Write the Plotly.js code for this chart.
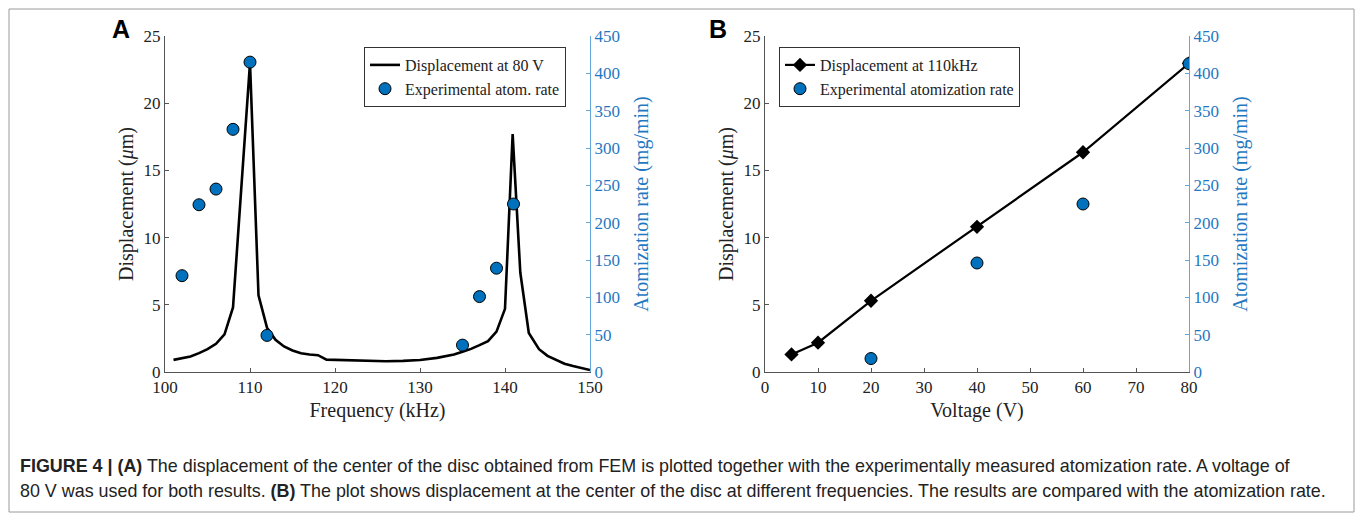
<!DOCTYPE html>
<html>
<head>
<meta charset="utf-8">
<script src="https://cdn.plot.ly/plotly-3.0.1.min.js"></script>
<style>html,body{margin:0;padding:0;background:#fff;}#chart{width:1355px;height:513px;}</style>
</head>
<body>
<div id="chart"></div>
<script>
// Panel A: displacement vs frequency (FEM, 80 V)
const freqA = [101,102,103,104,105,106,107,108,109,110,111,112,113,114,115,116,117,118,119,120,122,124,126,128,130,132,134,135,136,137,138,139,140,140.9,141.8,142.8,144,145,146,147,148,149,150];
const dispA = [0.9,1.0,1.15,1.4,1.7,2.1,2.8,4.8,13.9,23.0,5.7,3.3,2.4,1.9,1.6,1.4,1.3,1.25,0.92,0.9,0.85,0.82,0.8,0.83,0.89,1.05,1.3,1.5,1.72,2.0,2.3,3.0,4.7,17.7,7.4,2.9,1.7,1.2,0.9,0.62,0.45,0.28,0.15];
// Panel A: experimental atomization rate
const freqExpA = [102,104,106,108,110,112,135,137,139,141];
const rateExpA = [129,224,245,325,415,49,36,101,139,225];
// Panel B: displacement vs voltage (110 kHz)
const voltB = [5,10,20,40,60,80];
const dispB = [1.31,2.18,5.3,10.8,16.35,22.97];
// Panel B: experimental atomization rate
const voltExpB = [20,40,60,80];
const rateExpB = [18,146,225,413];

const W = 1355, H = 513;
const px = v => v / W;
const py = v => 1 - v / H;
const serif = "Liberation Serif, Times New Roman, serif";
const sans = "Liberation Sans, Arial, sans-serif";
const blueTxt = "#1f78c1";
const blueLine = "#62a8dc";
const axisGray = "#555555";
const markerBlue = "#0072BD";

const traces = [
  {x: freqA, y: dispA, xaxis: 'x', yaxis: 'y', mode: 'lines', name: 'Displacement at 80 V',
   line: {color: '#000', width: 2.6}, legend: 'legend'},
  {x: freqExpA, y: rateExpA, xaxis: 'x', yaxis: 'y2', mode: 'markers', name: 'Experimental atom. rate',
   marker: {color: markerBlue, size: 12, line: {color: '#000', width: 1}}, legend: 'legend'},
  {x: voltB, y: dispB, xaxis: 'x2', yaxis: 'y3', mode: 'lines+markers', name: 'Displacement at 110kHz',
   line: {color: '#000', width: 2.2}, marker: {symbol: 'diamond', size: 11, color: '#000'}, legend: 'legend2'},
  {x: voltExpB, y: rateExpB, xaxis: 'x2', yaxis: 'y4', mode: 'markers', name: 'Experimental atomization rate',
   marker: {color: markerBlue, size: 12, line: {color: '#000', width: 1}}, legend: 'legend2'}
];

const tickFont = {family: serif, size: 17, color: '#222'};
const tickFontBlue = {family: serif, size: 17, color: blueTxt};
const titleFont = {family: serif, size: 20, color: '#222'};
const titleFontBlue = {family: serif, size: 20, color: blueTxt};

function xAxis(domain, range, dtick, title) {
  return {domain: domain, range: range, dtick: dtick, tick0: 0, showgrid: false, zeroline: false,
    showline: true, linecolor: axisGray, linewidth: 1, ticks: 'inside', ticklen: 4, tickcolor: axisGray,
    tickfont: tickFont, title: {text: title, font: titleFont, standoff: 6}, fixedrange: true};
}
function yLeft(anchor) {
  return {domain: [py(372), py(36)], range: [0, 25], dtick: 5, anchor: anchor, showgrid: false, zeroline: false,
    showline: true, linecolor: axisGray, linewidth: 1, ticks: 'inside', ticklen: 4, tickcolor: axisGray,
    tickfont: tickFont, title: {text: 'Displacement (<i>μ</i>m)', font: titleFont, standoff: 4}};
}
function yRight(overlay, anchor) {
  return {overlaying: overlay, side: 'right', anchor: anchor, range: [0, 450], dtick: 50, showgrid: false, zeroline: false,
    showline: true, linecolor: blueLine, linewidth: 1, ticks: 'inside', ticklen: 4, tickcolor: blueLine,
    tickfont: tickFontBlue, title: {text: 'Atomization rate (mg/min)', font: titleFontBlue, standoff: 15}};
}

const legendCommon = {bgcolor: '#fff', bordercolor: '#333', borderwidth: 1,
  font: {family: serif, size: 16, color: '#222'}, xanchor: 'left', yanchor: 'top', tracegroupgap: 0, itemwidth: 30};

const layout = {
  width: W, height: H, margin: {l: 0, r: 0, t: 0, b: 0},
  paper_bgcolor: '#fff', plot_bgcolor: 'rgba(0,0,0,0)', showlegend: true,
  xaxis: xAxis([px(165), px(590)], [100, 150], 10, 'Frequency (kHz)'),
  yaxis: yLeft('x'),
  yaxis2: yRight('y', 'x'),
  xaxis2: xAxis([px(765), px(1189)], [0, 80], 10, 'Voltage (V)'),
  yaxis3: yLeft('x2'),
  yaxis4: yRight('y3', 'x2'),
  legend: Object.assign({x: px(364), y: py(47)}, legendCommon),
  legend2: Object.assign({x: px(779), y: py(47)}, legendCommon),
  shapes: [
    {type: 'rect', xref: 'paper', yref: 'paper', x0: px(9), x1: px(1354), y0: py(512), y1: py(9),
     line: {color: '#9a9a9a', width: 1}, fillcolor: 'rgba(0,0,0,0)', layer: 'below'}
  ],
  annotations: [
    {text: '<b>A</b>', xref: 'paper', yref: 'paper', x: px(110), y: py(45), xanchor: 'left', yanchor: 'bottom',
     showarrow: false, font: {family: sans, size: 25, color: '#000'}},
    {text: '<b>B</b>', xref: 'paper', yref: 'paper', x: px(707), y: py(45), xanchor: 'left', yanchor: 'bottom',
     showarrow: false, font: {family: sans, size: 25, color: '#000'}},
    {text: '<b>FIGURE 4 | (A)</b> The displacement of the center of the disc obtained from FEM is plotted together with the experimentally measured atomization rate. A voltage of',
     xref: 'paper', yref: 'paper', x: px(18), y: py(466), xanchor: 'left', yanchor: 'middle', showarrow: false,
     font: {family: sans, size: 17.9, color: '#222'}},
    {text: '80 V was used for both results. <b>(B)</b> The plot shows displacement at the center of the disc at different frequencies. The results are compared with the atomization rate.',
     xref: 'paper', yref: 'paper', x: px(18), y: py(491), xanchor: 'left', yanchor: 'middle', showarrow: false,
     font: {family: sans, size: 17.9, color: '#222'}}
  ]
};

Plotly.newPlot('chart', traces, layout, {staticPlot: true, displayModeBar: false});
</script>
</body>
</html>
